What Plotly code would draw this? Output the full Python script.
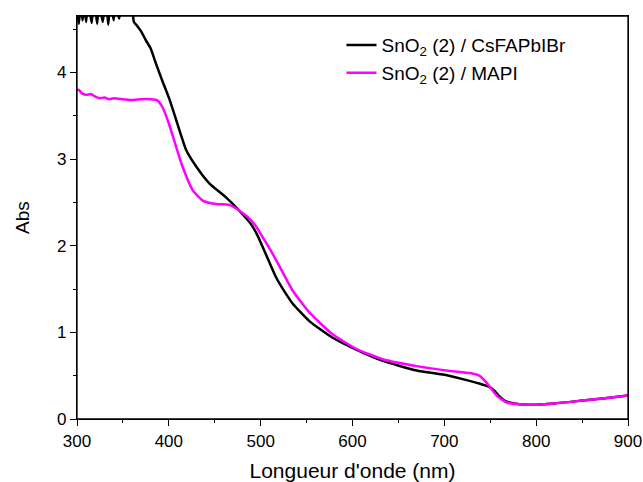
import plotly.graph_objects as go

# CsFAPbIBr (black)
wl_cs = [300, 302, 304, 306, 308, 310, 312, 314, 316, 318, 320, 322, 324, 326, 328, 330,
         332, 334, 336, 338, 340, 342, 344, 346, 348, 350, 352, 354, 356, 358, 360,
         362, 366, 370, 375, 380, 386, 393, 401, 408, 419, 430, 444, 462, 477, 490,
         496, 502, 509, 517, 526, 535, 553, 578, 604, 633, 670, 700, 720, 738, 749,
         755, 760, 766, 771, 782, 795, 820, 848, 875, 900]
abs_cs = [4.70, 4.56, 4.80, 4.60, 4.75, 4.58, 4.85, 4.70, 4.57, 4.80, 4.72, 4.56, 4.82, 4.70, 4.58, 4.75,
          4.80, 4.55, 4.78, 4.72, 4.60, 4.85, 4.70, 4.62, 4.80, 4.75, 4.68, 4.80, 4.72, 4.80, 4.75,
          4.58, 4.53, 4.47, 4.37, 4.28, 4.10, 3.90, 3.68, 3.45, 3.10, 2.91, 2.72, 2.56, 2.40, 2.24,
          2.13, 1.99, 1.82, 1.63, 1.47, 1.33, 1.13, 0.94, 0.80, 0.67, 0.56, 0.51, 0.46, 0.41, 0.37,
          0.32, 0.26, 0.21, 0.19, 0.17, 0.165, 0.18, 0.21, 0.24, 0.27]

# MAPI (magenta)
wl_ma = [300, 302, 305, 310, 315, 320, 325, 330, 335, 340, 350, 360, 370, 380, 387,
         393, 400, 408, 415, 426, 437, 451, 466, 480, 488, 495, 502, 509, 517, 535,
         553, 578, 604, 633, 670, 706, 728, 738, 746, 757, 768, 782, 795, 820, 848,
         875, 900]
abs_ma = [3.79, 3.80, 3.76, 3.74, 3.75, 3.72, 3.70, 3.71, 3.69, 3.70, 3.69, 3.68, 3.69, 3.69, 3.68,
          3.60, 3.41, 3.14, 2.91, 2.64, 2.52, 2.48, 2.47, 2.38, 2.31, 2.22, 2.10, 1.98, 1.83, 1.48,
          1.23, 0.98, 0.81, 0.69, 0.61, 0.555, 0.53, 0.50, 0.42, 0.27, 0.19, 0.17, 0.165, 0.18, 0.21,
          0.24, 0.27]

FONT = "Arial, 'Liberation Sans', sans-serif"

fig = go.Figure()
fig.add_trace(go.Scatter(x=wl_cs, y=abs_cs, mode="lines",
                         name="SnO<sub>2</sub> (2) / CsFAPbIBr",
                         line=dict(color="black", width=2.5, shape="spline", smoothing=0.5)))
fig.add_trace(go.Scatter(x=wl_ma, y=abs_ma, mode="lines",
                         name="SnO<sub>2</sub> (2) / MAPI",
                         line=dict(color="#ff00ff", width=2.5, shape="spline", smoothing=0.5)))

axis_common = dict(showline=True, linecolor="black", linewidth=1.3, mirror=True,
                   ticks="outside", ticklen=6, tickwidth=1.3, tickcolor="black",
                   showgrid=False, zeroline=False, automargin=False,
                   tickfont=dict(family=FONT, size=17, color="black"))

fig.update_layout(
    width=643, height=482,
    margin=dict(l=77, r=15, t=16, b=63),
    paper_bgcolor="white", plot_bgcolor="white",
    showlegend=True,
    legend=dict(x=0.48, y=0.975, xanchor="left", yanchor="top",
                font=dict(family=FONT, size=19, color="black"),
                bgcolor="rgba(0,0,0,0)", tracegroupgap=0),
    xaxis=dict(range=[300, 900], tickmode="linear", tick0=300, dtick=100,
               minor=dict(dtick=50, ticks="outside", ticklen=3, tickwidth=1.3, tickcolor="black"),
               title=dict(text="Longueur d'onde (nm)", font=dict(family=FONT, size=21, color="black"),
                          standoff=15),
               **axis_common),
    yaxis=dict(range=[0, 4.65], tickmode="linear", tick0=0, dtick=1,
               minor=dict(dtick=0.5, ticks="outside", ticklen=3, tickwidth=1.3, tickcolor="black"),
               title=dict(text="Abs", font=dict(family=FONT, size=19, color="black"),
                          standoff=22),
               **axis_common),
)

fig.add_shape(type="rect", xref="paper", yref="paper", x0=0, y0=0, x1=1, y1=1,
              line=dict(color="black", width=1.3), fillcolor="rgba(0,0,0,0)", layer="above")

fig.write_html("out.html", config={"displayModeBar": False},
               post_script="document.body.style.margin='0';document.body.style.overflow='hidden';")
